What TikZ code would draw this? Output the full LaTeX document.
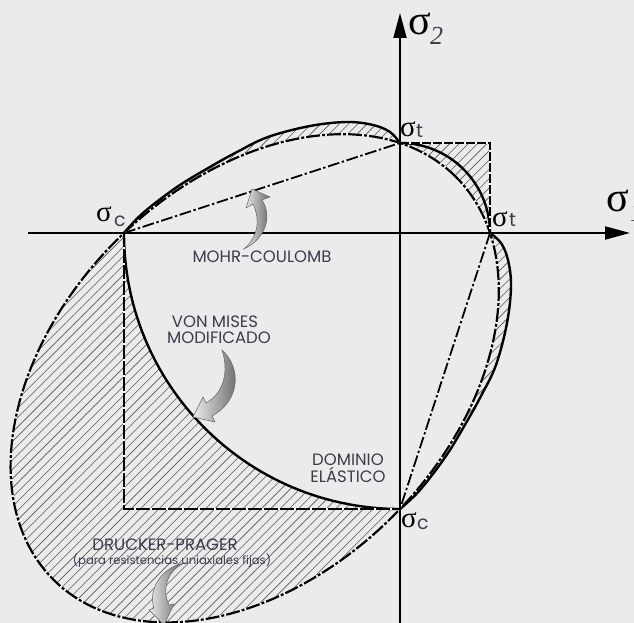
\documentclass[tikz,border=0pt]{standalone}
\usepackage{fontspec}
\setmainfont{Poppins}
\newfontfamily\sigfont{Liberation Serif}
\usetikzlibrary{arrows.meta}
\definecolor{bg}{rgb}{0.922,0.922,0.922}
\definecolor{txt}{rgb}{0.23,0.24,0.30}
\def\dpellipse{plot[domain=0:360,samples=181,variable=\t] ({-145.3+201.31*cos(\t)-138.10*sin(\t)},{-145.3+201.31*cos(\t)+138.10*sin(\t)}) -- cycle}
\def\vmpath{plot[smooth,tension=0.6] coordinates {(-276,0) (-257,20) (-223,46) (-190,66) (-163,81) (-132,96) (-90,107) (-53,111) (-27,108) (-10,101) (0,90)} arc[start angle=90,end angle=0,radius=90] -- plot[smooth,tension=0.6] coordinates {(90,0) (101,-10) (108,-27) (111,-53) (107,-90) (96,-132) (81,-163) (66,-190) (46,-223) (20,-257) (0,-276)} arc[start angle=270,end angle=180,radius=276] -- cycle}
\begin{document}
\begin{tikzpicture}[x=1pt,y=1pt,
  axis/.style={line width=2pt,-{Triangle[length=25pt,width=13pt]}},
  vm/.style={line width=2.4pt,line join=round},
  under/.style={line width=1.6pt,white},
  dpline/.style={line width=2.2pt,dash pattern=on 14pt off 2pt on 3pt off 2pt},
  mcline/.style={line width=1.8pt,dash pattern=on 12pt off 2.5pt on 2.5pt off 2.5pt},
  mcsq/.style={line width=1.8pt,dash pattern=on 14pt off 2pt},
  hatchline/.style={line width=0.6pt,black!65},
  lbl/.style={text=txt,font=\fontsize{16.5}{18}\selectfont,inner sep=0pt,anchor=base},
  sigbig/.style={inner sep=0pt,anchor=base west,font=\sigfont\fontsize{42}{42}\selectfont},
  sigsm/.style={inner sep=0pt,anchor=base west,font=\sigfont\fontsize{29}{29}\selectfont},
  subsc/.style={inner sep=0pt,anchor=base west,text=txt,font=\fontsize{19}{19}\selectfont},
  subnum/.style={inner sep=0pt,anchor=base west,text=txt,font=\sigfont\itshape\fontsize{26}{26}\selectfont},
  garrow/.style={left color=white!85!gray,right color=gray!75!black,draw=black!60,line width=0.5pt}
]
\useasboundingbox (-400,-390) rectangle (234,233);
\fill[bg] (-400,-390) rectangle (234,233);
\clip (-400,-390) rectangle (234,233);

% key points
\coordinate (sc1) at (-276,0);
\coordinate (st2) at (0,90);
\coordinate (st1) at (90,0);
\coordinate (sc2) at (0,-276);
\coordinate (q1) at (90,90);
\coordinate (q3) at (-276,-276);
\coordinate (xl) at (-372,0);
\coordinate (xr) at (230,0);
\coordinate (yb) at (0,-392);
\coordinate (yt) at (0,220);

% hatching
\begin{scope}[even odd rule]
  \clip \dpellipse \vmpath;
  \foreach \i in {0,...,137}
    \draw[hatchline] (-450,{-450+\i*9.3-630}) -- (300,{300+\i*9.3-630});
\end{scope}
\begin{scope}[even odd rule]
  \clip (0,0) rectangle (90,90);
  \clip (0,0) rectangle (90,90) \vmpath;
  \foreach \i in {0,...,137}
    \draw[hatchline] (-450,{-450+\i*9.3-630}) -- (300,{300+\i*9.3-630});
\end{scope}

% Drucker-Prager ellipse
\draw[under,line width=2pt] \dpellipse;
\draw[dpline] \dpellipse;

% modified von Mises
\draw[vm] \vmpath;

% Mohr-Coulomb
\draw[under] (sc1) -- (st2);
\draw[mcline] (sc1) -- (st2);
\draw[under] (st1) -- (sc2);
\draw[mcline] (st1) -- (sc2);
\draw[under] (st2) -- (q1) -- (st1);
\draw[mcsq,dash pattern=on 9pt off 2pt] (st2) -- (q1) -- (st1);
\draw[under] (sc1) -- (q3) -- (sc2);
\draw[mcsq] (sc1) -- (q3) -- (sc2);

% axes
\draw[axis] (xl) -- (xr);
\draw[axis] (yb) -- (yt);

% grey pointer arrows
\shade[garrow] (-156,-16) .. controls (-133,-5) and (-128,18) .. (-138,33) -- (-130,36) -- (-148,44) -- (-154,25) -- (-147,29) .. controls (-140,15) and (-141,-3) .. (-156,-16) -- cycle;
\shade[garrow] (-178,-117) .. controls (-158,-135) and (-160,-168) .. (-188,-183) -- (-185,-189) -- (-207,-184) -- (-197,-164) -- (-194,-170) .. controls (-176,-160) and (-171,-138) .. (-178,-117) -- cycle;
\shade[garrow] (-216,-330) .. controls (-240,-335) and (-252,-358) .. (-246,-375) -- (-251,-377) -- (-236,-392) -- (-226,-371) -- (-231,-372) .. controls (-238,-357) and (-234,-339) .. (-216,-330) -- cycle;

% labels
\node[lbl] (mc) at (-138,-30) {MOHR-COULOMB};
\node[lbl] (vm1) at (-185,-94) {VON MISES};
\node[lbl] (vm2) at (-181,-110) {MODIFICADO};
\node[lbl] (dom1) at (-52,-232) {DOMINIO};
\node[lbl] (dom2) at (-52,-249) {ELÁSTICO};
\node[lbl] (dp1) at (-235,-317) {DRUCKER-PRAGER};
\node[lbl,font=\fontsize{11.6}{12}\selectfont] (dp2) at (-228,-331) {(para resistencias uniaxiales fijas)};

% sigma labels
\node[sigbig] (s2) at (8,198) {σ};
\node[subnum] (s2i) at (30,188) {2};
\node[sigbig] (s1) at (206,21) {σ};
\node[subnum] (s1i) at (230,11) {1};
\node[sigsm] (stt) at (0,96) {σ};
\node[subsc] (stti) at (16,95) {t};
\node[sigsm] (str) at (92,6) {σ};
\node[subsc] (stri) at (109,6) {t};
\node[sigsm] (scl) at (-304,11) {σ};
\node[subsc] (scli) at (-286,6) {c};
\node[sigsm] (scb) at (1,-294) {σ};
\node[subsc] (scbi) at (17,-296) {c};
\end{tikzpicture}
\end{document}
